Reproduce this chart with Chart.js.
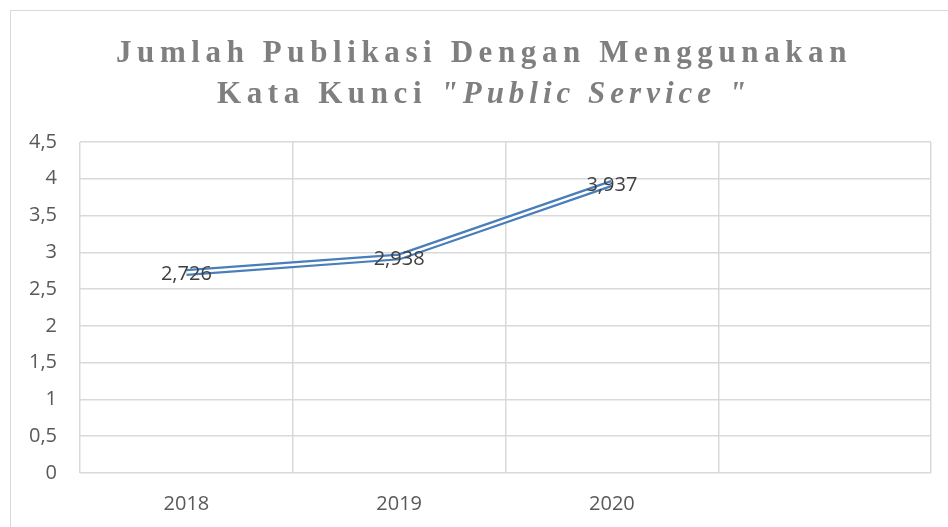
<!DOCTYPE html>
<html>
<head>
<meta charset="utf-8">
<script src="https://cdn.jsdelivr.net/npm/chart.js@4/dist/chart.umd.min.js"></script>
<style>
  html, body { margin: 0; padding: 0; background: #fff; overflow: hidden; }
  #wrap { position: relative; width: 948px; height: 527px; }
  #frame { position: absolute; left: 10px; top: 10px; width: 980px; height: 560px; border: 1px solid #d9d9d9; box-sizing: border-box; }
  #title {
    position: absolute; left: 10px; top: 31px; width: 948px; text-align: center;
    font-family: "Liberation Serif", serif; font-weight: bold; font-size: 31px;
    line-height: 41px; color: #7f7f7f; letter-spacing: 5.6px;
  }
  #title i { font-weight: bold; letter-spacing: 5px; }
  canvas { position: absolute; left: 0; top: 0; }
</style>
</head>
<body>
<div id="wrap">
  <div id="frame"></div>
  <canvas id="chart" width="948" height="527"></canvas>
  <div id="title">Jumlah Publikasi Dengan Menggunakan<br>Kata Kunci <i>"Public Service "</i></div>
</div>
<script>
// chart data
const years = ['2018', '2019', '2020', ''];
const publikasi = [2.726, 2.938, 3.937, null];
const yTicks = [0, 0.5, 1, 1.5, 2, 2.5, 3, 3.5, 4, 4.5];

const lineBlue = '#4a7ebb';

function fmtComma(v) {
    return String(v).replace('.', ',');
}

// value labels drawn centred on the points
const valueLabels = {
    id: 'valueLabels',
    afterDatasetsDraw(chart) {
        const ctx = chart.ctx;
        const meta = chart.getDatasetMeta(0);
        ctx.save();
        ctx.font = '20px "Open Sans", sans-serif';
        ctx.fillStyle = '#404040';
        ctx.textAlign = 'center';
        ctx.textBaseline = 'middle';
        meta.data.forEach((pt, i) => {
            const v = publikasi[i];
            if (v == null) return;
            ctx.fillText(fmtComma(v.toFixed(3)), pt.x, pt.y + 2);
        });
        ctx.restore();
    }
};

// double line: white core (index 0) is drawn on top of the blue outer line
new Chart(document.getElementById('chart').getContext('2d'), {
    type: 'line',
    data: {
        labels: years,
        datasets: [
            {
                data: publikasi,
                borderColor: '#ffffff',
                borderWidth: 2.5,
                pointRadius: 0,
                tension: 0
            },
            {
                data: publikasi,
                borderColor: lineBlue,
                borderWidth: 7,
                pointRadius: 0,
                tension: 0
            }
        ]
    },
    options: {
        responsive: false,
        animation: false,
        layout: { padding: { top: 142, right: 17, left: 0, bottom: 0 } },
        plugins: {
            legend: { display: false },
            tooltip: { enabled: false },
            title: { display: false }
        },
        scales: {
            x: {
                offset: true,
                grid: { offset: true, color: '#d9d9d9', lineWidth: 1.5, drawTicks: false },
                border: { display: false },
                ticks: {
                    color: '#595959',
                    font: { family: '"Open Sans", sans-serif', size: 20 },
                    padding: 19,
                    maxRotation: 0
                },
                afterFit(scale) { scale.height = 54; }
            },
            y: {
                min: 0,
                max: 4.5,
                afterBuildTicks(scale) { scale.ticks = yTicks.map(v => ({ value: v })); },
                grid: { color: '#d9d9d9', lineWidth: 1.5, drawTicks: false },
                border: { display: false },
                ticks: {
                    color: '#595959',
                    font: { family: '"Open Sans", sans-serif', size: 20 },
                    padding: 23,
                    callback: v => fmtComma(v)
                },
                afterFit(scale) { scale.width = 80; }
            }
        }
    },
    plugins: [valueLabels]
});
</script>
</body>
</html>
